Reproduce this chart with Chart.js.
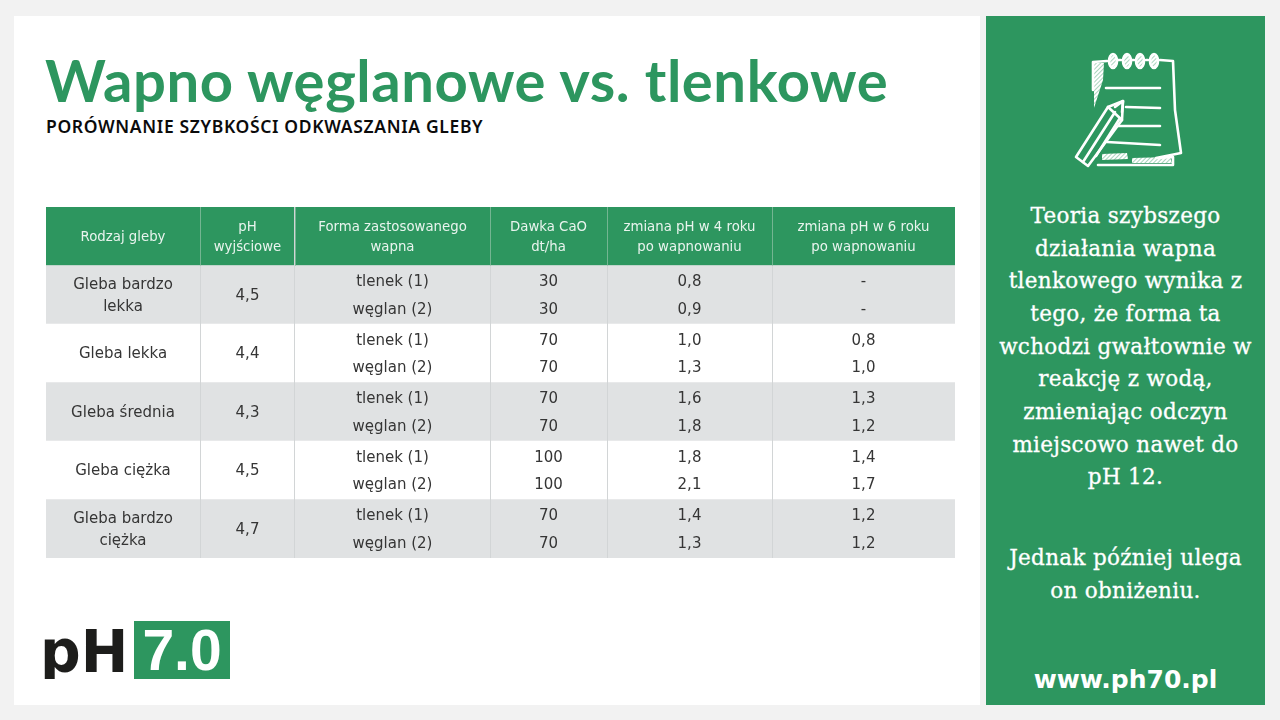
<!DOCTYPE html>
<html lang="pl">
<head>
<meta charset="utf-8">
<title>Wapno węglanowe vs. tlenkowe</title>
<script src="https://cdn.jsdelivr.net/npm/chart.js@4"></script>
<style>
  html, body { margin: 0; padding: 0; }
  body { width: 1280px; height: 720px; background: #f2f2f2; position: relative; overflow: hidden; font-family: "DejaVu Sans", sans-serif; }
  #sheet { position: absolute; left: 14px; top: 16px; width: 966px; height: 689px; background: #fff; }
  #side { position: absolute; left: 986px; top: 16px; width: 279px; height: 689px; background: #2d965f; }
  #title { position: absolute; left: 45px; top: 40px; font: 700 58px Lato, sans-serif; letter-spacing: 0.55px; color: #2d965f; white-space: nowrap; line-height: 80px; }
  #subtitle { position: absolute; left: 46px; top: 114px; font: 600 17.5px "Noto Sans", sans-serif; letter-spacing: 0.65px; color: #0b0b0b; white-space: nowrap; line-height: 24px; }
  #tableChart { position: absolute; left: 46px; top: 207px; }
  .side-line { position: absolute; left: 986px; width: 279px; text-align: center; color: #fff; font: 21.5px "DejaVu Serif", serif; letter-spacing: 0.3px; -webkit-text-stroke: 0.3px #fff; white-space: nowrap; line-height: 32px; }
  #url { font: 700 25px "DejaVu Sans", sans-serif; letter-spacing: 0; -webkit-text-stroke: 0; }
  #note { position: absolute; left: 1072px; top: 50px; }
  #logoPh { position: absolute; left: 40px; top: 616px; height: 63px; overflow: hidden; font: 700 58px "DejaVu Sans", sans-serif; color: #1d1d1b; line-height: 72px; transform-origin: left top; transform: scaleX(0.98); }
  #logoBox { position: absolute; left: 134px; top: 621px; width: 96px; height: 58px; background: #2d965f; color: #fff; font: 700 57px "Liberation Sans", sans-serif; line-height: 58px; text-align: center; }
</style>
</head>
<body>
<div id="sheet"></div>
<div id="side"></div>
<div id="title">Wapno węglanowe vs. tlenkowe</div>
<div id="subtitle">PORÓWNANIE SZYBKOŚCI ODKWASZANIA GLEBY</div>
<canvas id="tableChart" width="909" height="351"></canvas>

<svg id="note" width="112" height="122" viewBox="0 0 112 122" fill="none" stroke="#fff" stroke-width="2.6" stroke-linecap="round" stroke-linejoin="round">
  <defs>
    <pattern id="hatch" width="3" height="3" patternUnits="userSpaceOnUse" patternTransform="rotate(45)">
      <rect width="1.3" height="3" fill="#cfe8da"/>
    </pattern>
  </defs>
  <path d="M22 13 L32 13 L31 30 L22 58 Z M30 104 L55 103 L56 109 L30 110 Z M60 108 L98 107 L100 113 L60 113 Z" fill="url(#hatch)" stroke="none"/>
  <path d="M21 40 L21 12 L35 11 M46 10 L49 10 M60 10 L62 10 M74 10 L76 10 M88 10 L101 11 L103 60 L109 103 L84 108 L101 107 L101 115 L26 115"/>
  <ellipse cx="41" cy="11" rx="4" ry="7" fill="url(#hatch)"/><ellipse cx="55" cy="11" rx="4" ry="7" fill="url(#hatch)"/><ellipse cx="68" cy="11" rx="4" ry="7" fill="url(#hatch)"/><ellipse cx="82" cy="11" rx="4" ry="7" fill="url(#hatch)"/>
  <path d="M34 38 L88 38 M54 57 L88 58 M46 76 L88 76 M35 92 L88 95"/>
  <path d="M4 107 L36 57 L51 51 L50 70 L16 116 Z" fill="#2d965f"/>
  <path d="M36 57 L50 70 M11 112 L43 62 M24 106 L48 68 M43 57 L51 51 L50 62" />
</svg>

<div id="logoPh">pH</div>
<div id="logoBox">7.0</div>

<script>
const headerLines = [
  ['Rodzaj gleby'],
  ['pH', 'wyjściowe'],
  ['Forma zastosowanego', 'wapna'],
  ['Dawka CaO', 'dt/ha'],
  ['zmiana pH w 4 roku', 'po wapnowaniu'],
  ['zmiana pH w 6 roku', 'po wapnowaniu']
];
const soilNames = [['Gleba bardzo', 'lekka'], ['Gleba lekka'], ['Gleba średnia'], ['Gleba ciężka'], ['Gleba bardzo', 'ciężka']];
const phStart = ['4,5', '4,4', '4,3', '4,5', '4,7'];
const limeForms = ['tlenek (1)', 'węglan (2)'];
const doseOxide = ['30', '70', '70', '100', '70'];
const doseCarbonate = ['30', '70', '70', '100', '70'];
const change4Oxide = ['0,8', '1,0', '1,6', '1,8', '1,4'];
const change4Carbonate = ['0,9', '1,3', '1,8', '2,1', '1,3'];
const change6Oxide = ['-', '0,8', '1,3', '1,4', '1,2'];
const change6Carbonate = ['-', '1,0', '1,2', '1,7', '1,2'];

// strony kolumn tabeli w jednostkach osi x
const columnEdges = [0, 154, 249, 444, 561, 726, 909];
const rowLabels = ['naglowek', 'r1', 'r2', 'r3', 'r4', 'r5'];
const rowColors = ['#2d965f', '#e0e2e3', '#ffffff', '#e0e2e3', '#ffffff', '#e0e2e3'];

const sideLines = [
  ['Teoria szybszego', 216], ['działania wapna', 249], ['tlenkowego wynika z', 281],
  ['tego, że forma ta', 314], ['wchodzi gwałtownie w', 347], ['reakcję z wodą,', 379],
  ['zmieniając odczyn', 412], ['miejscowo nawet do', 445], ['pH 12.', 477],
  ['Jednak później ulega', 558], ['on obniżeniu.', 591]
];
sideLines.forEach(([text, y]) => {
  const el = document.createElement('div');
  el.className = 'side-line';
  el.style.top = (y - 16) + 'px';
  el.textContent = text;
  document.body.appendChild(el);
});
const urlEl = document.createElement('div');
urlEl.className = 'side-line';
urlEl.id = 'url';
urlEl.style.top = '665px';
urlEl.textContent = 'www.ph70.pl';
document.body.appendChild(urlEl);

const BODY_FONT = '15px "DejaVu Sans", sans-serif';
const HEAD_FONT = '13.3px "DejaVu Sans", sans-serif';
const SUB_ROW = 0.235; // przesuniecie wiersza tlenek/weglan
const LINE_ROW = 0.185; // przesuniecie zawinietego tekstu
const HEAD_ROW = 0.165;
const TEXT_NUDGE = 0.02; // tekst lezy nieco nizej niz srodek wiersza

// Teksty komorek i linie naglowka rysowane przez skale
const cellText = {
  id: 'cellText',
  afterDraw(chart) {
    const { ctx, scales: { x, y } } = chart;
    const colX = c => x.getPixelForValue((columnEdges[c] + columnEdges[c + 1]) / 2);
    const put = (text, c, rowValue) => ctx.fillText(text, colX(c), y.getPixelForValue(rowValue + TEXT_NUDGE));

    ctx.save();
    ctx.strokeStyle = '#74b592';
    ctx.lineWidth = 1;
    columnEdges.slice(1, -1).forEach(edge => {
      const px = Math.round(x.getPixelForValue(edge)) + 0.5;
      ctx.beginPath();
      ctx.moveTo(px, y.getPixelForValue(-0.5));
      ctx.lineTo(px, y.getPixelForValue(0.5));
      ctx.stroke();
    });

    ctx.textAlign = 'center';
    ctx.textBaseline = 'middle';

    ctx.fillStyle = '#e9f4ee';
    ctx.font = HEAD_FONT;
    headerLines.forEach((lines, c) => {
      lines.forEach((line, i) => put(line, c, lines.length === 1 ? 0 : (i === 0 ? -HEAD_ROW : HEAD_ROW)));
    });

    ctx.fillStyle = '#353535';
    ctx.font = BODY_FONT;
    soilNames.forEach((lines, r) => {
      const row = r + 1;
      lines.forEach((line, i) => put(line, 0, lines.length === 1 ? row : row + (i === 0 ? -LINE_ROW : LINE_ROW)));
      put(phStart[r], 1, row);
      limeForms.forEach((form, i) => put(form, 2, row + (i === 0 ? -SUB_ROW : SUB_ROW)));
      put(doseOxide[r], 3, row - SUB_ROW);
      put(doseCarbonate[r], 3, row + SUB_ROW);
      put(change4Oxide[r], 4, row - SUB_ROW);
      put(change4Carbonate[r], 4, row + SUB_ROW);
      put(change6Oxide[r], 5, row - SUB_ROW);
      put(change6Carbonate[r], 5, row + SUB_ROW);
    });
    ctx.restore();
  }
};

new Chart(document.getElementById('tableChart'), {
  type: 'bar',
  data: {
    labels: rowLabels,
    datasets: [{
      data: rowLabels.map(() => columnEdges[columnEdges.length - 1]),
      backgroundColor: rowColors,
      barPercentage: 1,
      categoryPercentage: 1
    }]
  },
  options: {
    indexAxis: 'y',
    responsive: false,
    animation: false,
    layout: { padding: 0 },
    plugins: { legend: { display: false }, tooltip: { enabled: false } },
    scales: {
      x: {
        type: 'linear',
        min: 0,
        max: columnEdges[columnEdges.length - 1],
        afterBuildTicks: scale => { scale.ticks = columnEdges.slice(1, -1).map(value => ({ value })); },
        ticks: { display: false },
        border: { display: false },
        grid: { color: '#d2d5d6', lineWidth: 1, drawTicks: false, z: 1 }
      },
      y: { display: false }
    }
  },
  plugins: [cellText]
});
</script>
</body>
</html>
